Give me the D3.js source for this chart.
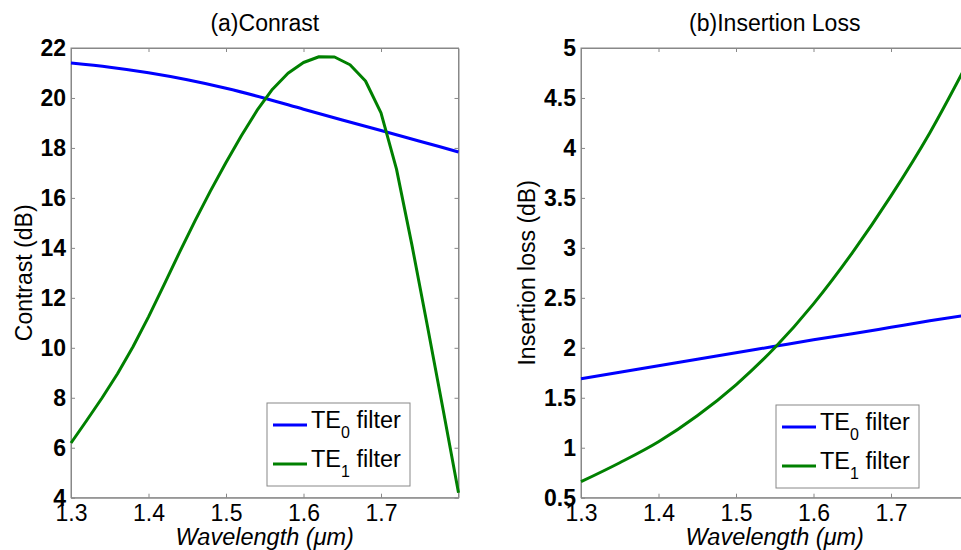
<!DOCTYPE html>
<html>
<head>
<meta charset="utf-8">
<script src="https://cdn.jsdelivr.net/npm/d3@7"></script>
<style>
  body { margin: 0; background: #fff; }
  svg { display: block; font-family: "Liberation Sans", Arial, sans-serif; }
  .axis path, .axis line { stroke: #888; }
  .axis text { fill: #000; font-size: 23px; }
</style>
</head>
<body>
<div id="chart"></div>
<script>
// wavelength samples (um)
var coarseX = [1.30, 1.35, 1.40, 1.45, 1.50, 1.55, 1.60, 1.65, 1.70, 1.75, 1.80];
var fineX = [1.30, 1.32, 1.34, 1.36, 1.38, 1.40, 1.42, 1.44, 1.46, 1.48, 1.50, 1.52, 1.54,
             1.56, 1.58, 1.60, 1.62, 1.64, 1.66, 1.68, 1.70, 1.72, 1.74, 1.76, 1.78, 1.80];

// (a) contrast, dB
var contrastTe0 = [21.40, 21.23, 21.01, 20.73, 20.39, 19.99, 19.55, 19.12, 18.70, 18.27, 17.84];
var contrastTe1 = [6.19, 7.08, 7.99, 8.96, 10.04, 11.24, 12.52, 13.82, 15.08, 16.28, 17.42, 18.50, 19.50,
                   20.35, 20.99, 21.42, 21.65, 21.64, 21.33, 20.68, 19.40, 17.15, 14.10, 10.85, 7.55, 4.20];

// (b) insertion loss, dB
var lossTe0 = [1.69, 1.755, 1.82, 1.885, 1.95, 2.015, 2.08, 2.14, 2.205, 2.27, 2.33];
var lossTe1 = [0.66, 0.85, 1.06, 1.32, 1.63, 2.00, 2.44, 2.95, 3.52, 4.15, 4.87];

var xTicks = [1.3, 1.4, 1.5, 1.6, 1.7];
var contrastTicks = [4, 6, 8, 10, 12, 14, 16, 18, 20, 22];
var lossTicks = [0.5, 1, 1.5, 2, 2.5, 3, 3.5, 4, 4.5, 5];
var legendNames = ["0", "1"]; // TE mode index

var svg = d3.select("#chart").append("svg")
    .attr("width", 961)
    .attr("height", 550);

function zip(xs, ys) {
    return xs.map(function (d, i) { return [d, ys[i]]; });
}

function drawPanel(opt) {
    var width = 387.5, height = 449.7;
    var g = svg.append("g")
        .attr("transform", "translate(" + opt.left + "," + opt.top + ")");

    var x = d3.scaleLinear().domain([1.3, 1.8]).range([0, width]);
    var y = d3.scaleLinear().domain(opt.yDomain).range([height, 0]);

    // box
    g.append("rect")
        .attr("width", width).attr("height", height)
        .attr("fill", "none").attr("stroke", "#888");

    g.append("g")
        .attr("class", "axis")
        .attr("transform", "translate(0," + height + ")")
        .call(d3.axisBottom(x).tickValues(xTicks).tickSize(-4).tickSizeOuter(0).tickPadding(7)
            .tickFormat(d3.format(".1f")));
    g.append("g")
        .attr("class", "axis")
        .call(d3.axisTop(x).tickValues(xTicks).tickSize(-4).tickSizeOuter(0).tickFormat(""));
    g.append("g")
        .attr("class", "axis")
        .call(d3.axisLeft(y).tickValues(opt.yTicks).tickSize(-4).tickSizeOuter(0).tickPadding(5)
            .tickFormat(function (d) { return String(d); }))
        .selectAll("text").style("font-weight", "bold");
    g.append("g")
        .attr("class", "axis")
        .attr("transform", "translate(" + width + ",0)")
        .call(d3.axisRight(y).tickValues(opt.yTicks).tickSize(-4).tickSizeOuter(0).tickFormat(""));

    var colors = ["#0000ff", "#008000"];
    opt.series.forEach(function (s, i) {
        var line = d3.line()
            .curve(s.curve)
            .x(function (d) { return x(d[0]); })
            .y(function (d) { return y(d[1]); });
        g.append("path")
            .datum(s.data)
            .attr("fill", "none")
            .attr("stroke", colors[i])
            .attr("stroke-width", 3)
            .attr("stroke-linejoin", "round")
            .attr("d", line);
    });

    // title
    g.append("text")
        .attr("x", width / 2).attr("y", -17)
        .attr("text-anchor", "middle")
        .style("font-size", "23px")
        .text(opt.title);

    // x label
    var xl = g.append("text")
        .attr("x", width / 2).attr("y", height + 47)
        .attr("text-anchor", "middle")
        .style("font-size", "23.5px")
        .style("font-style", "italic");
    xl.append("tspan").text("Wavelength (");
    xl.append("tspan").text("\u03bcm");
    xl.append("tspan").text(")");

    // y label
    g.append("text")
        .attr("transform", "translate(" + opt.yLabelX + "," + (height / 2) + ") rotate(-90)")
        .attr("text-anchor", "middle")
        .style("font-size", "23px")
        .text(opt.yLabel);

    // legend
    var lg = g.append("g")
        .attr("transform", "translate(" + opt.legendX + "," + opt.legendY + ")");
    lg.append("rect")
        .attr("width", 143).attr("height", 83)
        .attr("fill", "#fff").attr("stroke", "#888");
    legendNames.forEach(function (n, i) {
        var yy = 22 + i * 39;
        lg.append("line")
            .attr("x1", 6).attr("x2", 40)
            .attr("y1", yy).attr("y2", yy)
            .attr("stroke", colors[i]).attr("stroke-width", 3);
        var t = lg.append("text")
            .attr("x", 44).attr("y", yy + 3)
            .style("font-size", "23.5px");
        t.append("tspan").text("TE");
        t.append("tspan").attr("dy", 10).style("font-size", "16px").text(n);
        t.append("tspan").attr("dy", -10).text(" filter");
    });
}

drawPanel({
    left: 71, top: 48,
    yDomain: [4, 22], yTicks: contrastTicks,
    title: "(a)Conrast",
    yLabel: "Contrast (dB)", yLabelX: -39,
    legendX: 196, legendY: 355,
    series: [
        {data: zip(coarseX, contrastTe0), curve: d3.curveMonotoneX},
        {data: zip(fineX, contrastTe1), curve: d3.curveLinear}
    ]
});

drawPanel({
    left: 581, top: 48,
    yDomain: [0.5, 5], yTicks: lossTicks,
    title: "(b)Insertion Loss",
    yLabel: "Insertion loss (dB)", yLabelX: -46,
    legendX: 195, legendY: 357,
    series: [
        {data: zip(coarseX, lossTe0), curve: d3.curveMonotoneX},
        {data: zip(coarseX, lossTe1), curve: d3.curveMonotoneX}
    ]
});
</script>
</body>
</html>
